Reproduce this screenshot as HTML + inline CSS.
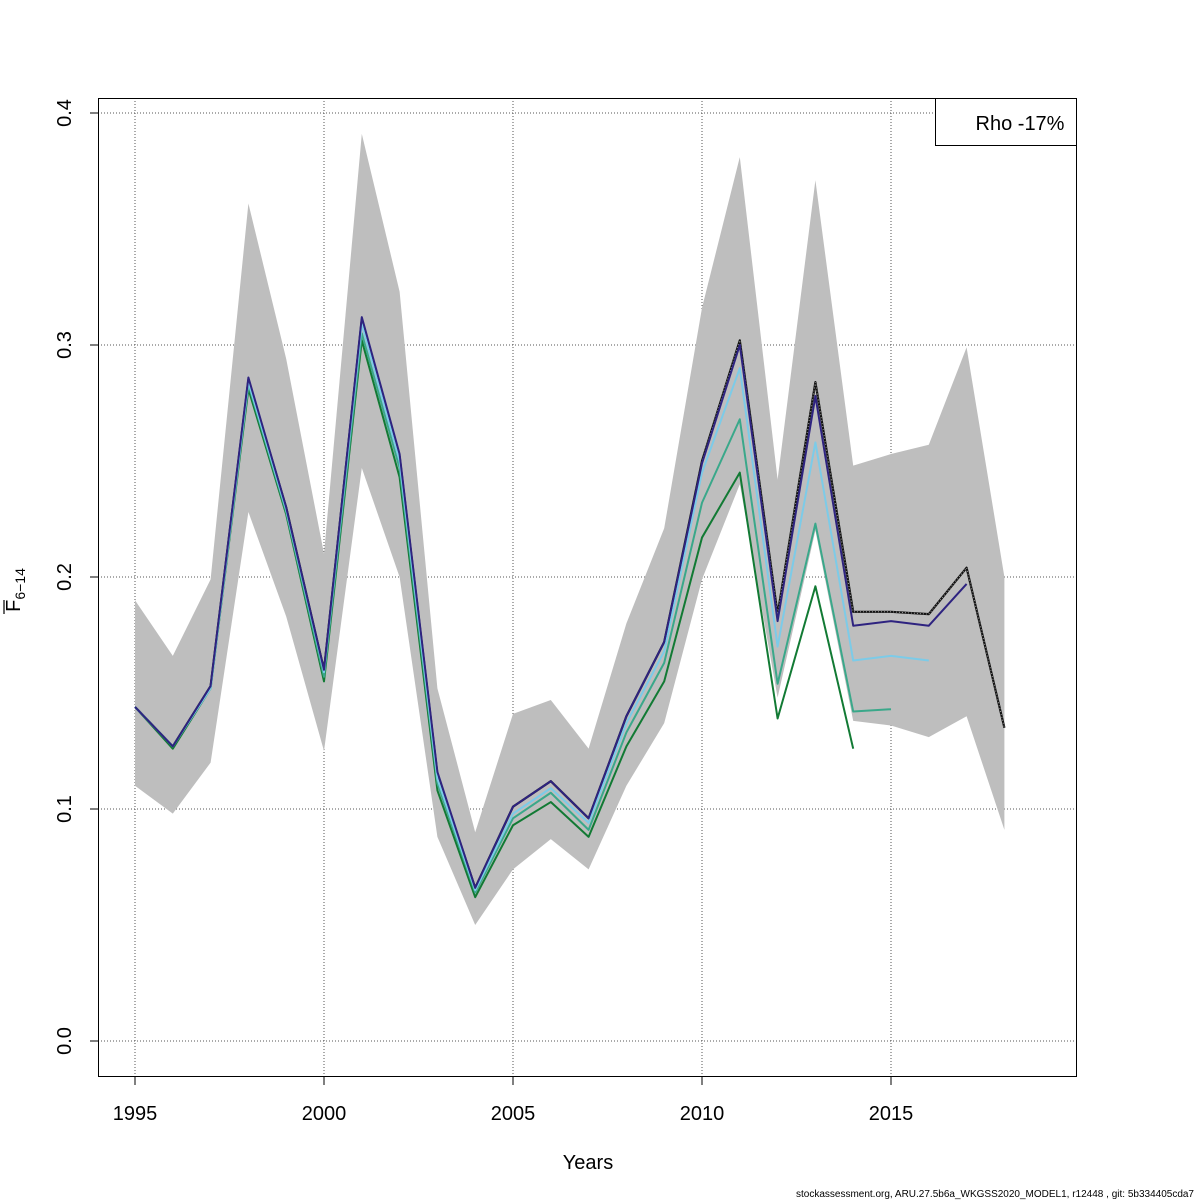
<!DOCTYPE html>
<html><head><meta charset="utf-8"><style>
html,body{margin:0;padding:0;background:#fff;}
svg{display:block;font-family:"Liberation Sans","DejaVu Sans",sans-serif;}
</style></head><body>
<svg id="chart" width="1200" height="1200" viewBox="0 0 1200 1200"></svg>
<script>
const years=[1995,1996,1997,1998,1999,2000,2001,2002,2003,2004,2005,2006,2007,2008,2009,2010,2011,2012,2013,2014,2015,2016,2017,2018];
const bandUpper=[.19,.166,.199,.361,.294,.21,.391,.323,.152,.09,.141,.147,.126,.18,.221,.316,.381,.242,.371,.248,.253,.257,.299,.2];
const bandLower=[.11,.098,.12,.228,.183,.125,.247,.2,.088,.05,.074,.087,.074,.11,.137,.199,.24,.148,.22,.138,.136,.131,.14,.091];
const fBase=[.144,.127,.153,.285,.23,.16,.311,.252,.115,.066,.101,.112,.096,.14,.172,.25,.302,.184,.284,.185,.185,.184,.204,.135];
const fMinus1=[.144,.127,.153,.286,.23,.16,.312,.253,.116,.066,.101,.112,.096,.14,.172,.249,.300,.181,.278,.179,.181,.179,.197];
const fMinus2=[.144,.127,.152,.284,.229,.159,.309,.25,.113,.065,.098,.109,.094,.137,.168,.245,.29,.17,.258,.164,.166,.164];
const fMinus3=[.144,.127,.152,.283,.228,.157,.305,.247,.111,.064,.096,.107,.091,.133,.163,.232,.268,.154,.223,.142,.143];
const fMinus4=[.144,.126,.152,.281,.227,.155,.302,.243,.108,.062,.093,.103,.088,.127,.155,.217,.245,.139,.196,.126];
const xTicks=[1995,2000,2005,2010,2015];
const yTicks=[0,0.1,0.2,0.3,0.4];
const yTickLabels=["0.0","0.1","0.2","0.3","0.4"];

const svg=document.getElementById('chart');
const NS='http://www.w3.org/2000/svg';
const X=y=>135+(y-1995)*37.8;
const Y=v=>1041-v*2320;
function mk(tag,attrs,parent){const e=document.createElementNS(NS,tag);for(const k in attrs)e.setAttribute(k,attrs[k]);(parent||svg).appendChild(e);return e;}

xTicks.forEach(t=>{const l=mk('line',{x1:X(t),x2:X(t),y1:98,y2:1077,stroke:'#555','stroke-width':1,'stroke-dasharray':'1,2'});

});
yTicks.forEach(t=>{const l=mk('line',{x1:98,x2:1077,y1:Y(t),y2:Y(t),stroke:'#555','stroke-width':1,'stroke-dasharray':'1,2'});

});

let pts=years.map((y,i)=>X(y)+','+Y(bandUpper[i]));
for(let i=years.length-1;i>=0;i--)pts.push(X(years[i])+','+Y(bandLower[i]));
const band=mk('polygon',{points:pts.join(' '),fill:'#bebebe',stroke:'none'});



function line(arr,color,name,w){const p=arr.map((v,i)=>X(years[i])+','+Y(v)).join(' ');
const e=mk('polyline',{points:p,fill:'none',stroke:color,'stroke-width':w||2,'stroke-linejoin':'round'});

return p;}
const bp=line(fBase,'#111','base-line-2018',2.2);
const dot=mk('polyline',{points:bp,fill:'none',stroke:'#999','stroke-width':1,'stroke-dasharray':'1,2'});


line(fMinus4,'#127a34','retro-line-2014');
line(fMinus3,'#3aa88a','retro-line-2015');
line(fMinus2,'#7ccbe8','retro-line-2016');
line(fMinus1,'#2e2380','retro-line-2017');

const box=mk('rect',{x:98.5,y:98.5,width:978,height:978,fill:'none',stroke:'#000','stroke-width':1});



xTicks.forEach(t=>{const l=mk('line',{x1:X(t),x2:X(t),y1:1077,y2:1085,stroke:'#000'});


const tx=mk('text',{x:X(t),y:1120,'font-size':20,'text-anchor':'middle'});tx.textContent=t;

});
yTicks.forEach((t,i)=>{const l=mk('line',{x1:90,x2:98,y1:Y(t),y2:Y(t),stroke:'#000'});


const tx=mk('text',{x:0,y:0,'font-size':20,'text-anchor':'middle',transform:`translate(71,${Y(t)}) rotate(-90)`});tx.textContent=yTickLabels[i];

});
</script>
<svg style="position:absolute;left:0;top:0" width="1200" height="1200">
<text x="588" y="1169" font-size="20" text-anchor="middle" font-family="Liberation Sans, sans-serif">Years</text>
<g transform="translate(20,590) rotate(-90)">
<text x="0" y="0" font-size="20" text-anchor="middle" font-family="Liberation Sans, sans-serif">F<tspan font-size="14" dy="5">6−14</tspan></text>
<line x1="-24" x2="-10" y1="-16" y2="-16" stroke="#000" stroke-width="1.2"/>
</g>
<rect x="935.5" y="98.5" width="141" height="47" fill="#fff" stroke="#000"/>
<text x="1020" y="130" font-size="20" text-anchor="middle" font-family="Liberation Sans, sans-serif">Rho -17%</text>
<text x="1194" y="1197" font-size="10" text-anchor="end" font-family="Liberation Sans, sans-serif">stockassessment.org, ARU.27.5b6a_WKGSS2020_MODEL1, r12448 , git: 5b334405cda7</text>
</svg>
</body></html>
